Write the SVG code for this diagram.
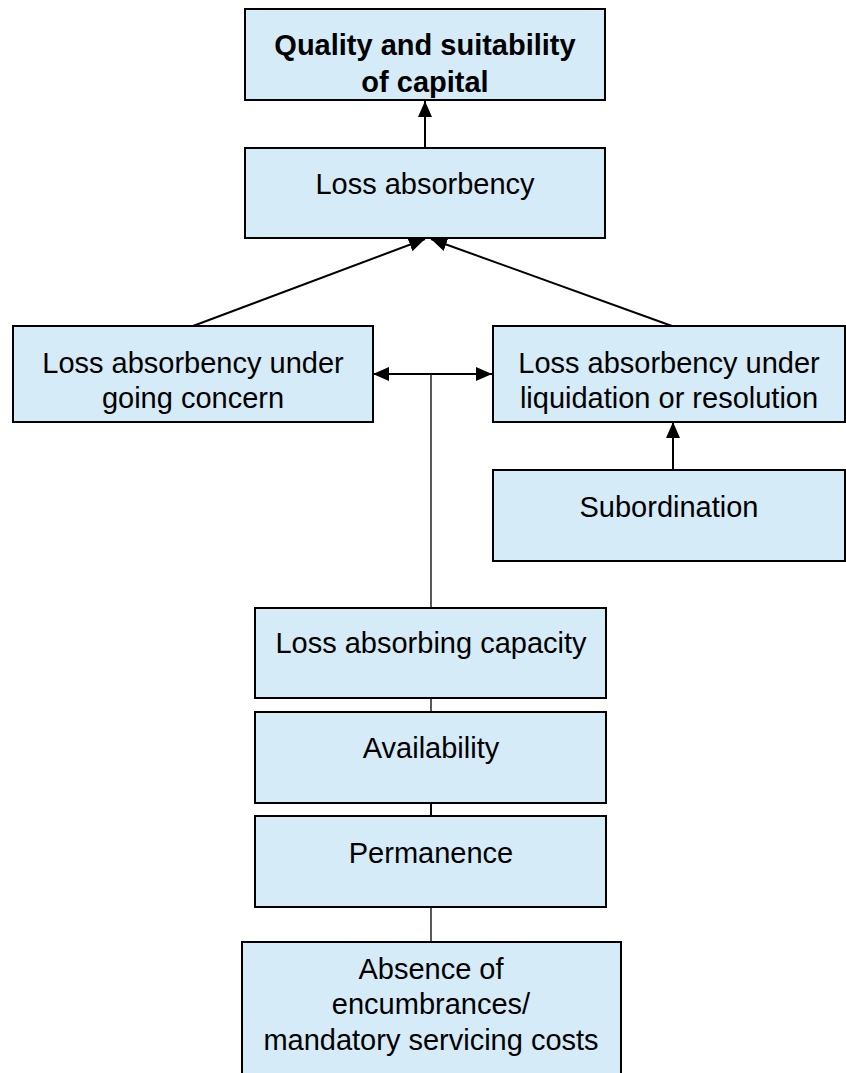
<svg xmlns="http://www.w3.org/2000/svg" width="846" height="1073" viewBox="0 0 846 1073">
<defs>
<style>
.box{fill:#D5EBF7;stroke:#000;stroke-width:2}
.t{font-family:"Liberation Sans",Arial,sans-serif;font-size:29px;fill:#000;text-anchor:middle}
.b{font-weight:bold}
.c{stroke:#000;stroke-width:2;fill:none}
.thin{stroke:#000;stroke-width:1.3;fill:none}
</style>
<marker id="ah" viewBox="0 0 16 14" refX="16" refY="7" markerWidth="16" markerHeight="14" markerUnits="userSpaceOnUse" orient="auto">
<path d="M0,0 L16,7 L0,14 Z" fill="#000"/>
</marker>
</defs>
<rect width="846" height="1073" fill="#fff"/>
<g id="connectors">
<line class="c" x1="425" y1="148" x2="425" y2="101" marker-end="url(#ah)"/>
<line class="c" x1="193" y1="326" x2="425" y2="239" marker-end="url(#ah)"/>
<line class="c" x1="672" y1="326" x2="431" y2="239" marker-end="url(#ah)"/>
<line class="c" x1="673" y1="470" x2="673" y2="422" marker-end="url(#ah)"/>
<line class="c" x1="431" y1="374" x2="373" y2="374" marker-end="url(#ah)"/>
<line class="c" x1="431" y1="374" x2="492" y2="374" marker-end="url(#ah)"/>
<line class="thin" x1="431" y1="374" x2="431" y2="608"/>
<line class="thin" x1="431" y1="698" x2="431" y2="712"/>
<line class="c" x1="431" y1="803" x2="431" y2="816"/>
<line class="thin" x1="431" y1="907" x2="431" y2="941"/>
</g>
<g id="n-quality">
<rect class="box" x="245" y="9" width="360" height="91"/>
<text class="t b" x="425" y="55">Quality and suitability</text>
<text class="t b" x="425" y="92">of capital</text>
</g>
<g id="n-loss">
<rect class="box" x="245" y="148" width="360" height="90"/>
<text class="t" x="425" y="194">Loss absorbency</text>
</g>
<g id="n-going">
<rect class="box" x="13" y="326" width="360" height="96"/>
<text class="t" x="193" y="373">Loss absorbency under</text>
<text class="t" x="193" y="408">going concern</text>
</g>
<g id="n-liquidation">
<rect class="box" x="493" y="326" width="352" height="96"/>
<text class="t" x="669" y="373">Loss absorbency under</text>
<text class="t" x="669" y="408">liquidation or resolution</text>
</g>
<g id="n-subordination">
<rect class="box" x="493" y="470" width="352" height="91"/>
<text class="t" x="669" y="517">Subordination</text>
</g>
<g id="n-capacity">
<rect class="box" x="255" y="608" width="351" height="90"/>
<text class="t" x="431" y="653">Loss absorbing capacity</text>
</g>
<g id="n-availability">
<rect class="box" x="255" y="712" width="351" height="91"/>
<text class="t" x="431" y="758">Availability</text>
</g>
<g id="n-permanence">
<rect class="box" x="255" y="816" width="351" height="91"/>
<text class="t" x="431" y="863">Permanence</text>
</g>
<g id="n-absence">
<rect class="box" x="242" y="942" width="379" height="140"/>
<text class="t" x="431" y="979">Absence of</text>
<text class="t" x="431" y="1014">encumbrances/</text>
<text class="t" x="431" y="1050">mandatory servicing costs</text>
</g>
</svg>
